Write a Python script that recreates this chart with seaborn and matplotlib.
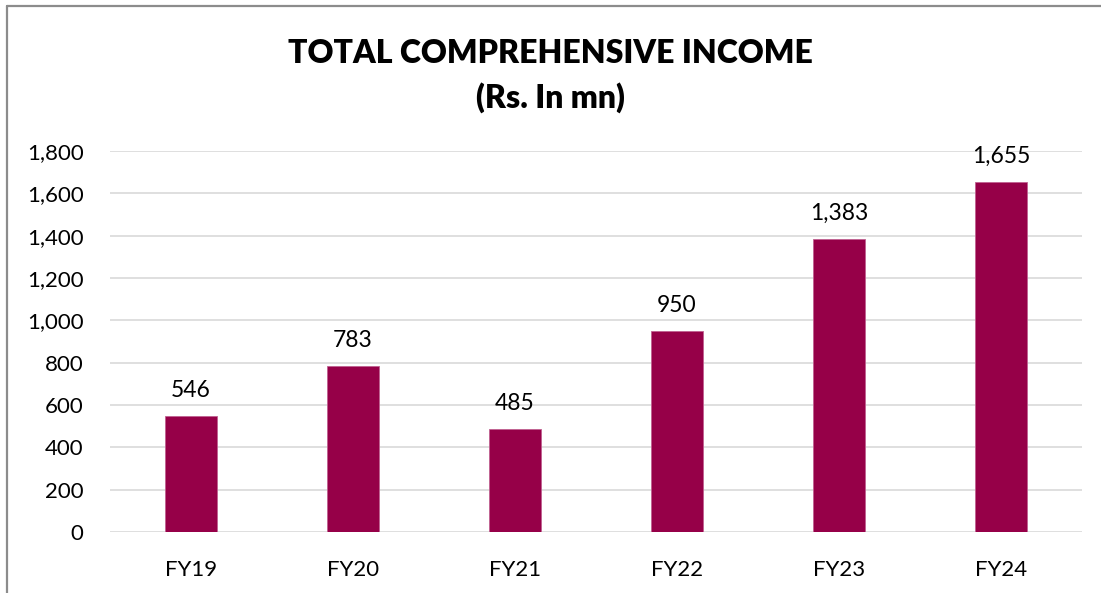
import matplotlib
matplotlib.use("Agg")
import matplotlib.pyplot as plt
import seaborn as sns
import pandas as pd
from matplotlib.lines import Line2D

years = ["FY19", "FY20", "FY21", "FY22", "FY23", "FY24"]
income = [546, 783, 485, 950, 1383, 1655]
yticks = [0, 200, 400, 600, 800, 1000, 1200, 1400, 1600, 1800]
title_text = "TOTAL COMPREHENSIVE INCOME\n(Rs. In mn)"

sns.set_theme(style="white")
plt.rcParams["font.family"] = ["Lato", "DejaVu Sans"]

df = pd.DataFrame({"year": years, "income": income})

fig = plt.figure(figsize=(11.01, 5.93), dpi=100)
ax = fig.add_axes([110/1101, 1 - 532/593, (1082 - 110)/1101, (532 - 151)/593])

sns.barplot(data=df, x="year", y="income", color="#960048", width=0.315,
            saturation=1, ax=ax, edgecolor="#c06090", linewidth=0.6, zorder=3)

ax.set_ylim(0, 1800)
ax.set_yticks(yticks)
ax.set_yticklabels([f"{v:,}" for v in yticks])
ax.grid(axis="y", color="#d9d9d9", linewidth=1.2, zorder=0)
ax.set_axisbelow(True)
for s in ax.spines.values():
    s.set_visible(False)
ax.set_xlabel("")
ax.set_ylabel("")
ax.tick_params(axis="y", length=0, pad=19, labelsize=16, labelcolor="#000000")
ax.tick_params(axis="x", length=0, pad=20, labelsize=16, labelcolor="#000000")

for i, v in enumerate(income):
    ax.annotate(f"{v:,}", (i, v), xytext=(0, 11), textcoords="offset points",
                ha="center", va="bottom", fontsize=16.5, color="#000000")

fig.text(0.5, 1 - 76/593, title_text, ha="center", va="center",
         fontsize=23, fontweight="heavy", color="#000000", linespacing=1.55)

fig.add_artist(Line2D([7/1101, 1.0], [1 - 6/593, 1 - 6/593], transform=fig.transFigure,
                      color="#8c8c8c", linewidth=1.6))
fig.add_artist(Line2D([7/1101, 7/1101], [0, 1 - 6/593], transform=fig.transFigure,
                      color="#8c8c8c", linewidth=1.6))

fig.savefig("out.png", dpi=100)
